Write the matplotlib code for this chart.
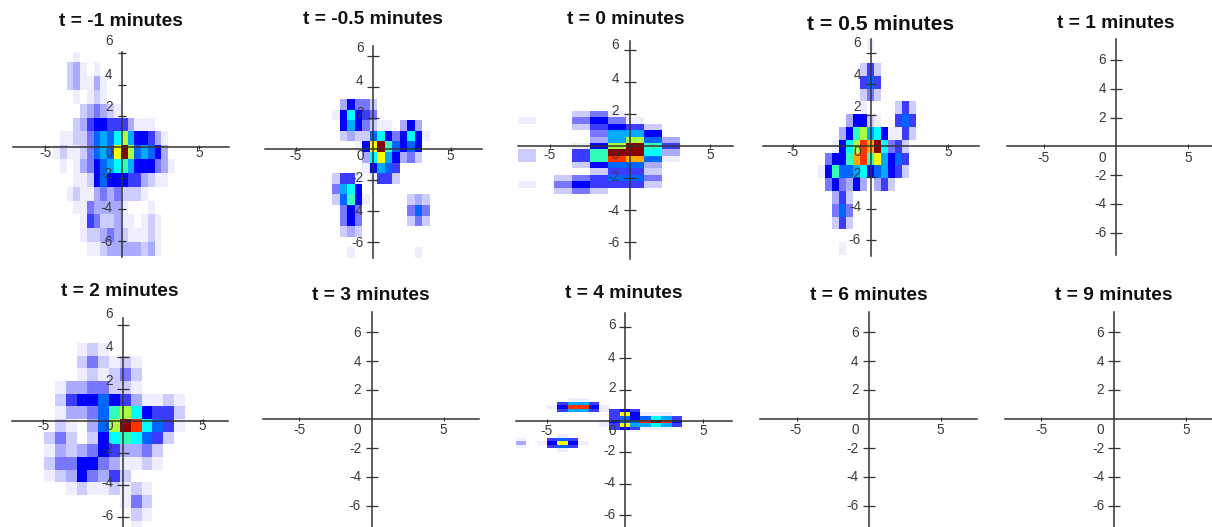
"""
Small multiples: 2D density maps on crossed axes, one per time point.
Density cells are stored as rows of hex levels, top row first.
"""

import numpy as np
import matplotlib
matplotlib.use("Agg")
import matplotlib.pyplot as plt
from matplotlib.colors import ListedColormap

plt.rcParams["font.family"] = ["Liberation Sans", "DejaVu Sans"]

W, H = 1212, 527

# ------------------------------------------------------------------- data

TITLES = ["t = -1 minutes", "t = -0.5 minutes", "t = 0 minutes", "t = 0.5 minutes",
          "t = 1 minutes", "t = 2 minutes", "t = 3 minutes", "t = 4 minutes",
          "t = 6 minutes", "t = 9 minutes"]
X_TICKS = [-5, 5]
Y_TICKS = [6, 4, 2, -2, -4, -6]

GRID_M1 = ["000100000000000000", "002310100000000000", "002311310000000000",
           "000101210000000000", "000023432100000000", "000235665553111000",
           "0112247879b8665310", "121124787cfb787630", "0101346789a8666431",
           "000112676665532110", "001211343422210000", "000114333310001000",
           "000015422311012100", "000012234321112100", "000001123333323100"]
GRID_M05 = ["0364420000000", "1696540000000", "0686421103630", "0232279646961",
            "00016cfa76760", "000039c863420", "0000168750000", "2551015520000",
            "4896000000000", "27a6100000232", "0464000000474", "0464000000242",
            "0232000000000", "0000000000000", "0010000000010"]
GRID_0 = ["000241000", "100464100", "000256520", "000048860", "000038b73",
          "00016bfa5", "2005aff93", "2005aed71", "000267730", "000025520",
          "002457740", "104655520", "002420000"]
GRID_05 = ["00000001000000", "00000000000000", "00000025200000", "00000057500000",
           "00000024200000", "00000010000252", "00003662100575", "00036ab8961152",
           "00169bedf94520", "0466adeac86750", "16a77896786520", "04643630352000",
           "00352000000000", "00474000000000", "00252000000000", "00000000000000",
           "00010000000000"]
GRID_2 = ["0001210000000", "0002421210000", "0001212420000", "0133442210000",
          "0256676531121", "013347ab96552", "021037bfe9751", "2420269a97520",
          "1323465334200", "2446643112100", "1236435200000", "0012112121000",
          "0000000142000", "0000000021000", "0000000010000"]
GRID_4 = ["0000011000000000", "0000588500000000", "00016ee610000000", "0000588515650000",
          "0000000005c61110", "0000000005767985", "000000001677efe6", "0000000015c88985",
          "0000000005651110", "0000000000000000", "0000100000000000", "1005750000000000",
          "3016c61000000000", "1005750000000000", "0000100000000000"]

# data-space extent (left, right, bottom, top) of each grid
EXTENT_M1 = (-4.45, 3.43, -7.0, 6.25)
EXTENT_M05 = (-2.65, 3.61, -6.97, 3.24)
EXTENT_0 = (-6.99, 3.09, -2.96, 2.2)
EXTENT_05 = (-3.38, 2.92, -7.01, 6.93)
EXTENT_2 = (-4.94, 3.85, -7.04, 4.87)
EXTENT_4 = (-6.98, 3.58, -1.95, 1.48)

GRIDS = [GRID_M1, GRID_M05, GRID_0, GRID_05, None, GRID_2, None, GRID_4, None, None]
EXTENTS = [EXTENT_M1, EXTENT_M05, EXTENT_0, EXTENT_05, None, EXTENT_2, None, EXTENT_4, None, None]

LEVEL_COLORS = ["#ffffff", "#eeeeff", "#ccccff", "#aaaaff", "#7777ff", "#3c3cff",
                "#0000ff", "#0066ff", "#00aaff", "#00ffff", "#33ffbb", "#aaff44",
                "#ffff00", "#ffaa00", "#ff3300", "#880000"]
cmap = ListedColormap(LEVEL_COLORS)

# ----------------------------------------------------------------- layout

# pixel layout per panel: axis ends, origin, tick spots, label spots
# xl, xr, yt, yb, x_m5, x_p5, y_axis_x, x_axis_y, y_6, y_m6, tick_px
BOX = [
    (13, 229, 52, 257, 45, 199.5, 122, 147, 53.7, 241, 8),
    (265, 481.7, 46, 258.3, 295.7, 450.7, 373.3, 149.3, 56.7, 243, 12),
    (517.7, 733, 40.7, 259, 549.3, 710, 630, 146.3, 51, 243.3, 12),
    (762.7, 979, 39, 256, 793, 948, 870.7, 146.3, 53.3, 240, 10),
    (1006.7, 1212, 39, 255.3, 1043.7, 1188, 1115.7, 146.3, 60.3, 233, 12),
    (11.7, 227.7, 318.3, 527, 43.3, 202.7, 123, 421, 325, 516.3, 12),
    (262.7, 479.3, 311.7, 527, 299, 443.7, 371.7, 419, 332.7, 506, 12),
    (515.7, 731.7, 312.7, 527, 546.7, 703.3, 625, 421, 327.3, 515, 12),
    (760, 976.7, 311.7, 527, 796, 940.7, 869, 419, 332.7, 506, 12),
    (1005, 1212, 311.7, 527, 1041.7, 1186.7, 1113.7, 419, 332.7, 506, 12),
]
# right edge of y labels, y of x labels, y of each y label (6, 4, 2, -2, -4, -6)
YLAB_X = [112.7, 363.7, 619.3, 861, 1106.3, 113.3, 361, 615.7, 858.7, 1104.3]
XLAB_Y = [153, 155.7, 155, 151.7, 158, 426, 430.3, 430.7, 430.3, 430.3]
YLAB_Y = [
    (41, 75, 107, 174, 208, 241.6),
    (47.7, 80.7, 112.7, 178, 210.7, 243),
    (45, 78.7, 111, 177.3, 210.7, 242.7),
    (42.7, 75, 107, 174, 207, 240),
    (60.3, 89.3, 117.7, 175.7, 204, 233),
    (314, 347.3, 380.7, 449, 483, 516),
    (332.7, 362, 390.3, 448.7, 476.7, 506),
    (325, 358, 388, 451, 483, 515),
    (332.7, 362, 390.3, 448.7, 476.7, 506),
    (332.7, 362, 390.3, 448.7, 476.7, 506),
]
TITLE_XY = [(121, 22), (372.7, 20), (625.7, 20), (880.7, 24), (1116, 24),
            (120, 291.7), (371, 296), (624, 294), (868.7, 296), (1114, 296)]
TITLE_SIZE = [13.8, 13.8, 13.8, 15.2, 13.8, 13.8, 13.8, 13.8, 13.8, 13.8]

TICK_FS = 9.8
INK = "#3a3a3a"

# ----------------------------------------------------------------- figure

fig = plt.figure(figsize=(W / 100, H / 100), dpi=100)

for i, title in enumerate(TITLES):
    xl, xr, yt, yb, xm5, xp5, x0, y0, y6, ym6, tlen = BOX[i]
    sx = (xp5 - xm5) / 10
    sy = (ym6 - y6) / 12
    ax = fig.add_axes([xl / W, 1 - yb / H, (xr - xl) / W, (yb - yt) / H])
    ax.patch.set_alpha(0)

    if GRIDS[i] is not None:
        cells = np.array([[int(c, 16) for c in row] for row in GRIDS[i]])
        ax.imshow(cells, cmap=cmap, vmin=-0.5, vmax=15.5, extent=EXTENTS[i],
                  aspect="auto", interpolation="nearest", zorder=0)

    ax.set_xlim((xl - x0) / sx, (xr - x0) / sx)
    ax.set_ylim((y0 - yb) / sy, (y0 - yt) / sy)

    for side in ("top", "right"):
        ax.spines[side].set_visible(False)
    for side in ("left", "bottom"):
        ax.spines[side].set_position(("data", 0))
        ax.spines[side].set_linewidth(1.1)
        ax.spines[side].set_color("#333333")
    ax.set_xticks(X_TICKS, labels=[])
    ax.set_yticks(Y_TICKS, labels=[])
    ax.tick_params(axis="x", direction="inout", length=4 * 0.72, width=0.8, color="#333333")
    ax.tick_params(axis="y", direction="inout", length=tlen * 0.72, width=0.9, color="#333333")

    # labels sit apart from their ticks in several panels, so place them directly
    for val, ly in zip(Y_TICKS, YLAB_Y[i]):
        fig.text(YLAB_X[i] / W, 1 - ly / H, str(val), ha="right", va="center",
                 fontsize=TICK_FS, color=INK)
    fig.text(YLAB_X[i] / W, 1 - XLAB_Y[i] / H, "0", ha="right", va="center",
             fontsize=TICK_FS, color=INK)
    for val, lx in zip(X_TICKS, (xm5, xp5)):
        fig.text(lx / W, 1 - XLAB_Y[i] / H, str(val), ha="center", va="center",
                 fontsize=TICK_FS, color=INK)

    fig.text(TITLE_XY[i][0] / W, 1 - TITLE_XY[i][1] / H, title, ha="center", va="center",
             fontsize=TITLE_SIZE[i], fontweight="bold", color="#111111")

fig.savefig("out.png", dpi=100)
